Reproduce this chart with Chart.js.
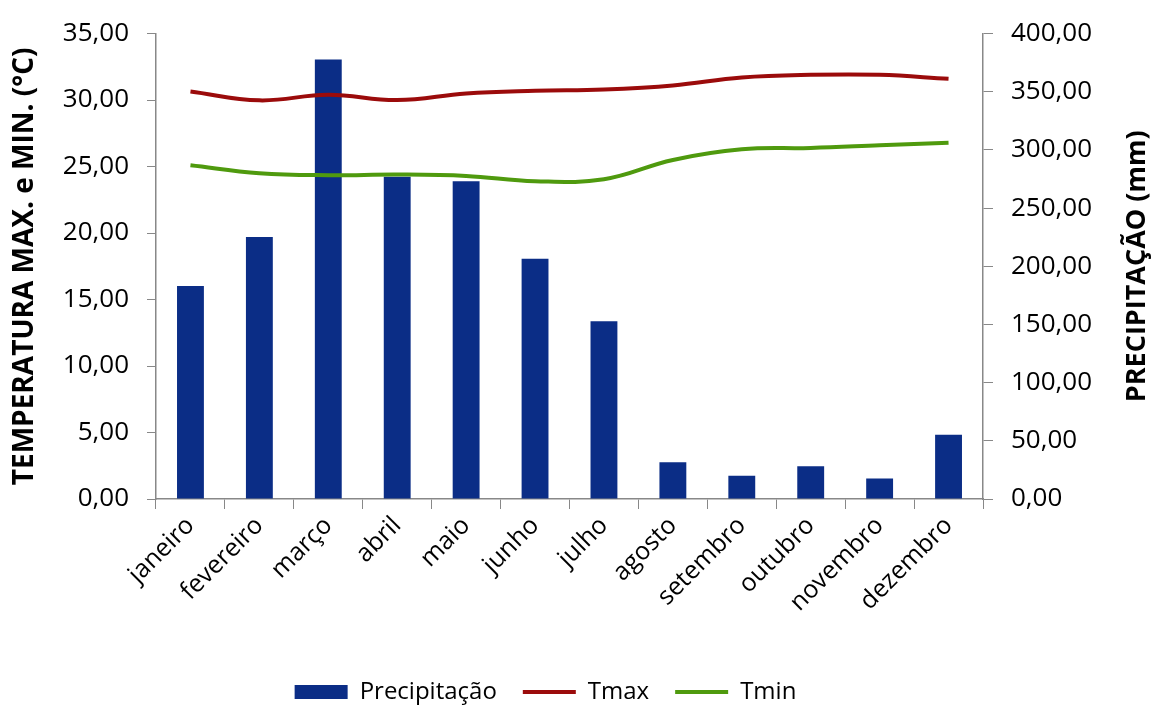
<!DOCTYPE html>
<html>
<head>
<meta charset="utf-8">
<script src="https://cdn.jsdelivr.net/npm/chart.js@4.4.0/dist/chart.umd.min.js"></script>
<style>
  html, body { margin: 0; padding: 0; background: #ffffff; }
  #wrap { width: 1151px; height: 709px; position: relative; }
</style>
</head>
<body>
<div id="wrap"><canvas id="c" width="1151" height="709"></canvas></div>
<script>
const months = ['janeiro','fevereiro','março','abril','maio','junho','julho','agosto','setembro','outubro','novembro','dezembro'];
const precipitacao = [183.1, 225.2, 377.8, 277.0, 273.0, 206.4, 152.7, 31.6, 19.9, 28.1, 17.6, 55.2];
const tmax = [30.65, 29.98, 30.4, 30.0, 30.5, 30.7, 30.8, 31.1, 31.7, 31.9, 31.9, 31.6];
const tmin = [25.1, 24.5, 24.35, 24.4, 24.3, 23.9, 24.05, 25.5, 26.3, 26.4, 26.6, 26.8];
const tempTicks = [0, 5, 10, 15, 20, 25, 30, 35];
const precTicks = [0, 50, 100, 150, 200, 250, 300, 350, 400];

const FONT = "'Open Sans', 'DejaVu Sans', sans-serif";
const fmt = v => Number(v).toFixed(2).replace('.', ',');

const rightTitle = {
  id: 'rightTitle',
  afterLayout(chart) {
    const lg = chart.legend;
    lg.left -= 30; lg.right -= 30;
    lg.top += 5; lg.bottom += 5;
  },
  afterDraw(chart) {
    const ctx = chart.ctx;
    const a = chart.chartArea;
    ctx.save();
    ctx.translate(1137, (a.top + a.bottom) / 2);
    ctx.rotate(-Math.PI / 2);
    ctx.font = "bold 27px " + FONT;
    ctx.fillStyle = '#000';
    ctx.textAlign = 'center';
    ctx.textBaseline = 'middle';
    ctx.fillText('PRECIPITAÇÃO (mm)', 0, 0);
    ctx.restore();
  }
};

new Chart(document.getElementById('c'), {
  data: {
    labels: months,
    datasets: [
      { type: 'bar', label: 'Precipitação', data: precipitacao, yAxisID: 'y1',
        backgroundColor: '#0b2d86', borderWidth: 0, order: 1,
        barPercentage: 0.39, categoryPercentage: 1.0 },
      { type: 'line', label: 'Tmax', data: tmax, yAxisID: 'y',
        borderColor: '#9b0b0b', backgroundColor: '#9b0b0b', borderWidth: 4,
        pointRadius: 0, tension: 0.4, order: 0 },
      { type: 'line', label: 'Tmin', data: tmin, yAxisID: 'y',
        borderColor: '#4f9a0e', backgroundColor: '#4f9a0e', borderWidth: 4,
        pointRadius: 0, tension: 0.4, order: 0 }
    ]
  },
  options: {
    responsive: false,
    animation: false,
    layout: { padding: { top: 30, left: 0, right: 0, bottom: 0 } },
    plugins: {
      tooltip: { enabled: false },
      legend: {
        position: 'bottom',
        labels: {
          font: { family: FONT, size: 24 },
          color: '#000',
          padding: 26,
          usePointStyle: true,
          pointStyleWidth: 53,
          boxHeight: 14,
          sort: (a, b) => a.datasetIndex - b.datasetIndex,
          generateLabels(chart) {
            return chart.data.datasets.map((ds, i) => ({
              text: ds.label,
              datasetIndex: i,
              fillStyle: ds.backgroundColor,
              strokeStyle: ds.type === 'bar' ? ds.backgroundColor : ds.borderColor,
              lineWidth: ds.type === 'bar' ? 0 : 4,
              pointStyle: ds.type === 'bar' ? 'rect' : 'line',
              hidden: false,
              fontColor: '#000'
            }));
          }
        }
      }
    },
    scales: {
      x: {
        offset: true,
        grid: { display: true, drawOnChartArea: false, drawTicks: true, tickLength: 10, color: '#888', offset: true },
        border: { color: '#888', width: 1.5 },
        ticks: { font: { family: FONT, size: 25 }, color: '#000', minRotation: 45, maxRotation: 45, padding: 2 },
        afterFit(s) { s.height = 150; }
      },
      y: {
        position: 'left',
        min: 0, max: 35,
        afterBuildTicks(s) { s.ticks = tempTicks.map(v => ({ value: v })); },
        grid: { display: true, drawOnChartArea: false, drawTicks: true, tickLength: 9, color: '#888' },
        border: { color: '#888', width: 1.5 },
        ticks: { font: { family: FONT, size: 26 }, color: '#000', padding: 18, callback: v => fmt(v) },
        title: { display: true, text: 'TEMPERATURA MAX. e MIN. (°C)', color: '#000',
                 font: { family: FONT, size: 28, weight: 'bold' }, padding: { top: 8, bottom: 0 } },
        afterFit(s) { s.width = 156; }
      },
      y1: {
        position: 'right',
        min: 0, max: 400,
        afterBuildTicks(s) { s.ticks = precTicks.map(v => ({ value: v })); },
        grid: { display: true, drawOnChartArea: false, drawTicks: true, tickLength: 10, color: '#888' },
        border: { color: '#888', width: 1.5 },
        ticks: { font: { family: FONT, size: 26 }, color: '#000', padding: 18, callback: v => fmt(v) },
        afterFit(s) { s.width = 168; }
      }
    }
  },
  plugins: [rightTitle]
});
</script>
</body>
</html>
